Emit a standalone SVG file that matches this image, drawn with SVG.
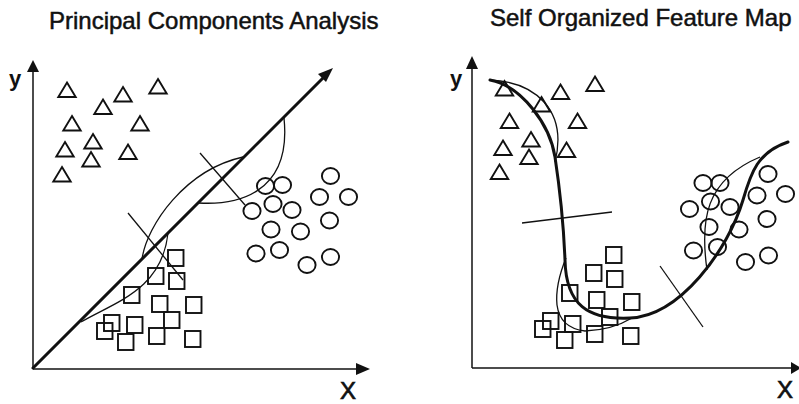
<svg xmlns="http://www.w3.org/2000/svg" xmlns:xlink="http://www.w3.org/1999/xlink" width="799" height="404" viewBox="0 0 799 404">
<style>
.title{font-family:"Liberation Sans",Arial,sans-serif;font-size:24px;fill:#111;stroke:#111;stroke-width:0.5}
.lab{font-family:"Liberation Sans",Arial,sans-serif;fill:#111}
.xl{font-size:24px;stroke:#111;stroke-width:0.7}
.yl{font-size:22px;font-weight:bold}
.axis{stroke:#111;stroke-width:1.5;fill:none}
.thick{stroke:#111;stroke-width:3;fill:none;stroke-linecap:round;stroke-linejoin:round}
.thin{stroke:#111;stroke-width:1.3;fill:none}
.pt{stroke:#111;stroke-width:1.9;fill:none}
.head{fill:#111;stroke:none}
</style>
<defs>
<path id="tri" class="pt" d="M0,-7.5 L8.7,7 L-8.7,7 Z"/>
<rect id="sq" class="pt" x="0" y="0" width="15.5" height="16"/>
<ellipse id="ci" class="pt" cx="0" cy="0" rx="8.6" ry="8"/>
</defs>
<rect width="799" height="404" fill="#fff"/>

<g id="pca">
<text class="title" x="49" y="29">Principal Components Analysis</text>
<g id="pca-axes">
<line class="axis" x1="33" y1="70" x2="33" y2="369"/>
<line class="axis" x1="33" y1="369" x2="358" y2="369"/>
<polygon class="head" points="33,60 27,72 39,72"/>
<polygon class="head" points="370,369 356,363 356,375"/>
<text class="lab yl" x="9" y="86">y</text>
<text class="lab xl" x="340" y="399">X</text>
</g>
<g id="pca-triangles">
<use xlink:href="#tri" x="67" y="90"/>
<use xlink:href="#tri" x="123" y="94.5"/>
<use xlink:href="#tri" x="158" y="86.5"/>
<use xlink:href="#tri" x="103" y="107"/>
<use xlink:href="#tri" x="72" y="123.5"/>
<use xlink:href="#tri" x="140" y="123.5"/>
<use xlink:href="#tri" x="93" y="141.5"/>
<use xlink:href="#tri" x="65" y="149.5"/>
<use xlink:href="#tri" x="128" y="152"/>
<use xlink:href="#tri" x="91" y="159.5"/>
<use xlink:href="#tri" x="62" y="174.5"/>
</g>
<g id="pca-squares">
<use xlink:href="#sq" x="168" y="250"/>
<use xlink:href="#sq" x="148" y="268"/>
<use xlink:href="#sq" x="169" y="273"/>
<use xlink:href="#sq" x="124" y="287"/>
<use xlink:href="#sq" x="152" y="296"/>
<use xlink:href="#sq" x="186" y="297"/>
<use xlink:href="#sq" x="164" y="312"/>
<use xlink:href="#sq" x="104" y="315"/>
<use xlink:href="#sq" x="127" y="317"/>
<use xlink:href="#sq" x="97" y="323"/>
<use xlink:href="#sq" x="149" y="328"/>
<use xlink:href="#sq" x="118" y="334"/>
<use xlink:href="#sq" x="185" y="331"/>
</g>
<g id="pca-circles">
<use xlink:href="#ci" x="330.5" y="176"/>
<use xlink:href="#ci" x="265.5" y="186"/>
<use xlink:href="#ci" x="282.5" y="185"/>
<use xlink:href="#ci" x="319.5" y="197"/>
<use xlink:href="#ci" x="348.5" y="197"/>
<use xlink:href="#ci" x="273" y="204"/>
<use xlink:href="#ci" x="252" y="211"/>
<use xlink:href="#ci" x="292" y="210"/>
<use xlink:href="#ci" x="329.5" y="220.5"/>
<use xlink:href="#ci" x="271" y="229.5"/>
<use xlink:href="#ci" x="300.5" y="231.5"/>
<use xlink:href="#ci" x="256" y="253.5"/>
<use xlink:href="#ci" x="279.5" y="250"/>
<use xlink:href="#ci" x="307" y="265"/>
<use xlink:href="#ci" x="330.5" y="257"/>
</g>
<g id="pca-connectors">
<line class="thick" x1="33" y1="368" x2="324" y2="77"/>
<polygon class="head" points="333,68 326,82 318,74"/>
<path class="thin" d="M81,322 C115,302 162,290 168,233"/>
<path class="thin" d="M142,259 C147,225 185,170 243,157"/>
<path class="thin" d="M199,203 C235,205 292,195 284,118"/>
<line class="thin" x1="128" y1="213" x2="183" y2="280"/>
<line class="thin" x1="200" y1="153" x2="245" y2="205"/>
</g>
</g>

<g id="som">
<text class="title" x="490" y="26">Self Organized Feature Map</text>
<g id="som-axes">
<line class="axis" x1="472" y1="66" x2="472" y2="368"/>
<line class="axis" x1="472" y1="368" x2="795" y2="368"/>
<polygon class="head" points="472,56 466,69 478,69"/>
<polygon class="head" points="801,368 791,362 791,374"/>
<text class="lab yl" x="450" y="86">y</text>
<text class="lab xl" x="777" y="398">X</text>
</g>
<g id="som-triangles">
<use xlink:href="#tri" x="504.5" y="88.5"/>
<use xlink:href="#tri" x="560.5" y="92"/>
<use xlink:href="#tri" x="595" y="84"/>
<use xlink:href="#tri" x="541.5" y="104.5"/>
<use xlink:href="#tri" x="509.5" y="121"/>
<use xlink:href="#tri" x="577.5" y="121"/>
<use xlink:href="#tri" x="531" y="139.5"/>
<use xlink:href="#tri" x="503" y="148"/>
<use xlink:href="#tri" x="566.5" y="150"/>
<use xlink:href="#tri" x="529" y="157"/>
<use xlink:href="#tri" x="499.5" y="172"/>
</g>
<g id="som-squares">
<use xlink:href="#sq" x="606" y="247"/>
<use xlink:href="#sq" x="586" y="265"/>
<use xlink:href="#sq" x="607" y="271"/>
<use xlink:href="#sq" x="562" y="285"/>
<use xlink:href="#sq" x="589" y="292"/>
<use xlink:href="#sq" x="624" y="294"/>
<use xlink:href="#sq" x="602" y="309"/>
<use xlink:href="#sq" x="543" y="313"/>
<use xlink:href="#sq" x="565" y="316"/>
<use xlink:href="#sq" x="535" y="321"/>
<use xlink:href="#sq" x="587" y="326"/>
<use xlink:href="#sq" x="557" y="332"/>
<use xlink:href="#sq" x="623" y="328"/>
</g>
<g id="som-circles">
<use xlink:href="#ci" x="703" y="183"/>
<use xlink:href="#ci" x="720" y="183"/>
<use xlink:href="#ci" x="768" y="174"/>
<use xlink:href="#ci" x="757" y="195.5"/>
<use xlink:href="#ci" x="785.5" y="194"/>
<use xlink:href="#ci" x="710.5" y="201.5"/>
<use xlink:href="#ci" x="689.5" y="209"/>
<use xlink:href="#ci" x="730" y="207"/>
<use xlink:href="#ci" x="767" y="219"/>
<use xlink:href="#ci" x="709" y="227"/>
<use xlink:href="#ci" x="739" y="229.5"/>
<use xlink:href="#ci" x="693.5" y="250.5"/>
<use xlink:href="#ci" x="717.5" y="247"/>
<use xlink:href="#ci" x="745.5" y="262"/>
<use xlink:href="#ci" x="768.5" y="255.5"/>
</g>
<g id="som-connectors">
<path class="thick" d="M490,80 C522,86 550,125 555,157 C560,190 564,235 565,260 C566,305 588,320 630,318 C680,316 728,250 743,200 C751,172 758,152 788,142"/>
<path class="thin" d="M490,80 C535,82 568,110 555,162"/>
<path class="thin" d="M566,258 Q555,285 557,305 Q560,328 585,331 Q612,330 632,318"/>
<path class="thin" d="M707,270 C700,220 705,180 760,157"/>
<line class="thin" x1="522" y1="223" x2="612" y2="212"/>
<line class="thin" x1="660" y1="266" x2="703" y2="327"/>
</g>
</g>
</svg>
